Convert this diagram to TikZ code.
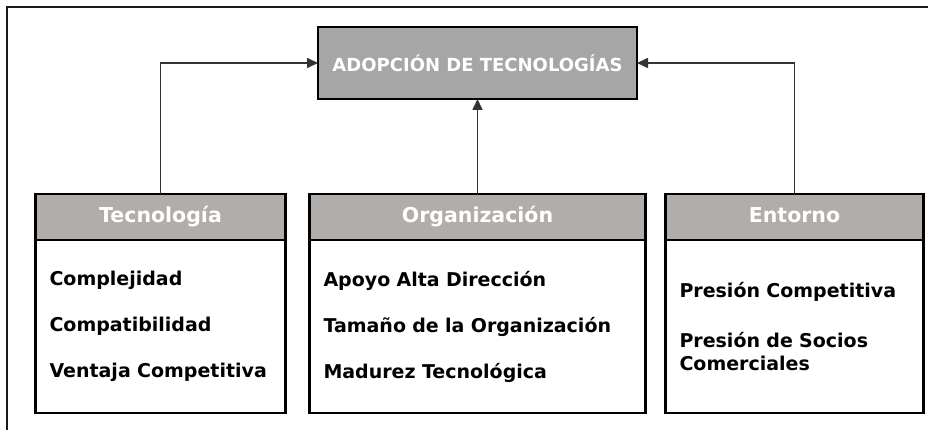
\documentclass[tikz,border=0pt]{standalone}
\usepackage{fontspec}
\setmainfont{DejaVu Sans}
\usetikzlibrary{positioning,arrows.meta}
\definecolor{topgray}{HTML}{A6A6A6}
\definecolor{headgray}{HTML}{B0ADAB}
\tikzset{
  topbox/.style={draw, line width=2.5pt, outer sep=0pt, fill=topgray, minimum width=319pt,
                 minimum height=72pt, text=white, font=\fontsize{18}{21}\selectfont\bfseries},
  headbox/.style={draw, line width=2.5pt, outer sep=0pt, fill=headgray, minimum height=46pt,
                  text height=15pt, text depth=4pt,
                  text=white, font=\fontsize{20.5}{24}\selectfont\bfseries},
  bodybox/.style={draw, line width=2.5pt, outer sep=0pt, fill=white, minimum height=173pt,
                  align=left, inner xsep=14pt, font=\fontsize{19}{23}\selectfont\bfseries},
  frame/.style={draw, line width=2.5pt, black!90}
}
\begin{document}
\begin{tikzpicture}[x=1pt, y=1pt, level distance=154pt, sibling distance=317pt,
  edge from parent/.style={draw, line width=1.6pt, black!80, -{Triangle[length=11pt,width=10pt]}}]
\useasboundingbox (0,0) rectangle (928,430);
\draw[frame] (7,-5) |- (935,423);
\node[topbox] (adop) at (477.5,367) {ADOPCIÓN DE TECNOLOGÍAS}
    child[edge from parent path={(\tikzchildnode.north) |- (\tikzparentnode.west)}] {
        node[headbox, minimum width=250pt] (tec) {Tecnología}
    }
    child[edge from parent path={(\tikzchildnode.north) -- (\tikzparentnode.south)}] {
        node[headbox, minimum width=336pt] (org) {Organización}
    }
    child[edge from parent path={(\tikzchildnode.north) |- (\tikzparentnode.east)}] {
        node[headbox, minimum width=258pt] (ent) {Entorno}
    }
    ;
% cuerpos de las tres cajas
\node[bodybox, minimum width=250pt, text width=222pt, below=0pt of tec] (tecbody)
    {Complejidad\\[23pt]Compatibilidad\\[23pt]Ventaja Competitiva};
\node[bodybox, minimum width=336pt, text width=308pt, below=0pt of org] (orgbody)
    {Apoyo Alta Dirección\\[23pt]Tamaño de la Organización\\[23pt]Madurez Tecnológica};
\node[bodybox, minimum width=258pt, text width=230pt, below=0pt of ent] (entbody)
    {Presión Competitiva\\[27pt]Presión de Socios\\Comerciales};
\end{tikzpicture}
\end{document}
